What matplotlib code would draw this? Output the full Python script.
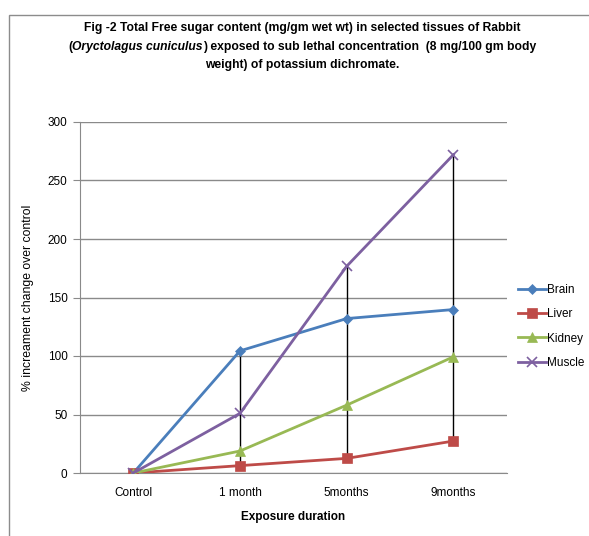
import matplotlib
matplotlib.use("Agg")
import matplotlib.pyplot as plt
from matplotlib.patches import Rectangle
import numpy as np

categories = ["Control", "1 month", "5months", "9months"]
brain = [0, 104.4, 132, 139.7]
liver = [0, 6.3, 12.5, 27.3]
kidney = [0, 18.8, 58, 99.3]
muscle = [0, 51, 176.7, 272]
series_names = ["Brain", "Liver", "Kidney", "Muscle"]
y_ticks = [0, 50, 100, 150, 200, 250, 300]

plt.rcParams['font.family'] = ['Liberation Sans', 'DejaVu Sans']

W, H = 589, 536
fig = plt.figure(figsize=(W / 100, H / 100), dpi=100)
fig.patch.set_facecolor("white")

# outer chart border
fig.patches.append(Rectangle((9 / W, -0.1), 1.2, (536 - 15) / H + 0.1,
                             transform=fig.transFigure, fill=False,
                             edgecolor="#8c8c8c", linewidth=1.0))

ax = fig.add_axes([80 / W, (H - 473) / H, 426.7 / W, 351 / H])
x = np.arange(len(categories))
colors = ["#4A7EBB", "#BE4B48", "#98B954", "#7D60A0"]
markers = ["D", "s", "^", "x"]
msizes = [5, 7, 7, 7]
data = [brain, liver, kidney, muscle]

# high-low lines
stack = np.array(data)
ax.vlines(x, stack.min(axis=0), stack.max(axis=0), color="black", linewidth=1.0, zorder=2)

for d, c, m, ms, name in zip(data, colors, markers, msizes, series_names):
    ax.plot(x, d, color=c, linewidth=2.0, marker=m, markersize=ms,
            markeredgewidth=1.2 if m == "x" else 0.5, markeredgecolor=c,
            label=name, zorder=3)

ax.set_xlim(-0.5, 3.5)
ax.set_ylim(0, 300)
ax.set_yticks(y_ticks)
ax.set_xticks(x)
ax.set_xticklabels(categories)
ax.yaxis.grid(True, color="#8a8a8a", linewidth=1.0)
ax.set_axisbelow(True)
for s in ["top", "right"]:
    ax.spines[s].set_visible(False)
ax.spines["left"].set_color("#8a8a8a")
ax.spines["bottom"].set_color("#8a8a8a")
ax.tick_params(axis="y", length=5, color="#8a8a8a", labelsize=8.5, pad=4)
ax.tick_params(axis="x", length=0, labelsize=8.5, pad=10)

ax.set_xlabel("Exposure duration", fontsize=8.5, fontweight="bold", labelpad=9)
ax.set_ylabel("% increament change over control", fontsize=8.8, labelpad=10)

leg = ax.legend(loc="upper left", bbox_to_anchor=(513 / W, (H - 279) / H),
                bbox_transform=fig.transFigure, frameon=False, fontsize=8.5,
                handlelength=2.4, handletextpad=0.1, labelspacing=1.05,
                borderaxespad=0)

# title (three lines, second with italic species name)
fs = 8.7
cx = 302 / W
y1, y2, y3 = (H - 28) / H, (H - 47) / H, (H - 65) / H
fig.text(cx, y1, "Fig -2 Total Free sugar content (mg/gm wet wt) in selected tissues of Rabbit",
         ha="center", va="center", fontsize=fs, fontweight="bold")
fig.text(cx, y3, "weight) of potassium dichromate.",
         ha="center", va="center", fontsize=fs, fontweight="bold")
parts = [("(", "normal"), ("Oryctolagus cuniculus", "italic"),
         (") exposed to sub lethal concentration  (8 mg/100 gm body", "normal")]
texts = [fig.text(0, y2, p, ha="left", va="center", fontsize=fs,
                  fontweight="bold", fontstyle=st) for p, st in parts]
fig.canvas.draw()
r = fig.canvas.get_renderer()
widths = [t.get_window_extent(r).width for t in texts]
total = sum(widths)
xpos = cx * W - total / 2
for t, w in zip(texts, widths):
    t.set_x(xpos / W)
    xpos += w

fig.savefig("out.png", dpi=100)
